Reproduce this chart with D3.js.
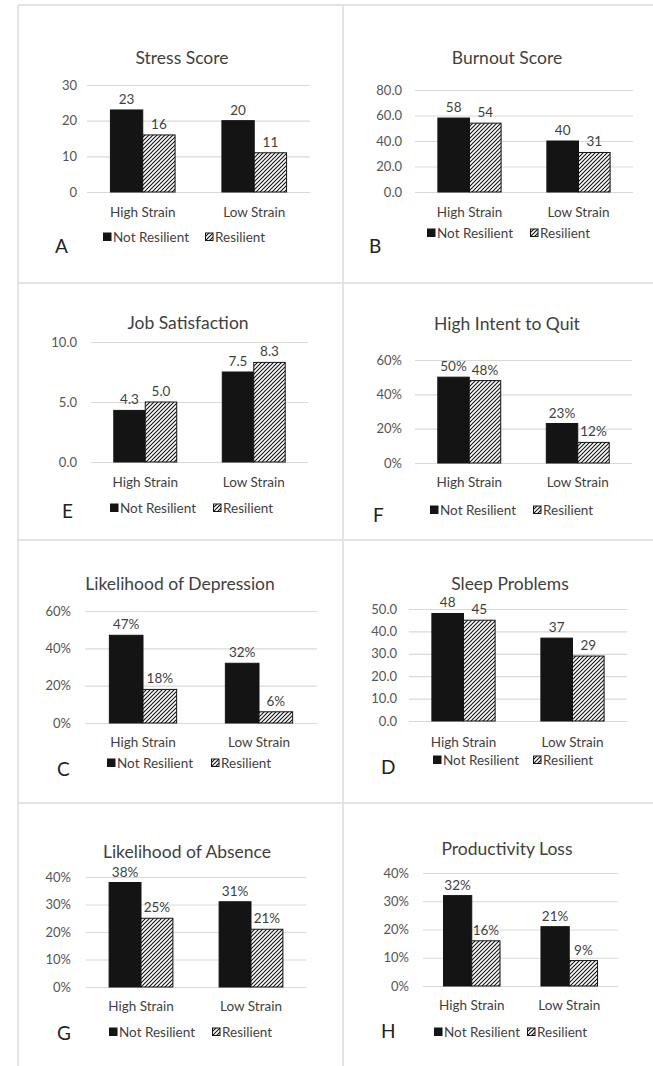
<!DOCTYPE html>
<html>
<head>
<meta charset="utf-8">
<script src="https://cdn.jsdelivr.net/npm/d3@7"></script>
<style>
  body { margin: 0; background: #fff; }
  text { font-family: Lato, "Open Sans", sans-serif; }
</style>
</head>
<body>
<script>
// categories and series
let categories = ['High Strain', 'Low Strain']
let seriesNames = ['Not Resilient', 'Resilient']

// values
let stressNotRes = [23, 20], stressRes = [16, 11]
let burnoutNotRes = [58, 40], burnoutRes = [54, 31]
let jobSatNotRes = [4.3, 7.5], jobSatRes = [5.0, 8.3]
let quitNotRes = [0.50, 0.23], quitRes = [0.48, 0.12]
let depressNotRes = [0.47, 0.32], depressRes = [0.18, 0.06]
let sleepNotRes = [48, 37], sleepRes = [45, 29]
let absenceNotRes = [0.38, 0.31], absenceRes = [0.25, 0.21]
let productNotRes = [0.32, 0.21], productRes = [0.16, 0.09]

// tick values
let stressTicks = [0, 10, 20, 30]
let burnoutTicks = [0, 20, 40, 60, 80]
let jobSatTicks = [0, 5, 10]
let quitTicks = [0, 0.2, 0.4, 0.6]
let depressTicks = [0, 0.2, 0.4, 0.6]
let sleepTicks = [0, 10, 20, 30, 40, 50]
let absenceTicks = [0, 0.1, 0.2, 0.3, 0.4]
let productTicks = [0, 0.1, 0.2, 0.3, 0.4]

let titles = ['Stress Score', 'Burnout Score', 'Job Satisfaction', 'High Intent to Quit',
  'Likelihood of Depression', 'Sleep Problems', 'Likelihood of Absence', 'Productivity Loss']
let letters = ['A', 'B', 'E', 'F', 'C', 'D', 'G', 'H']

let svg = d3.select('body').append('svg')
  .attr('width', 653)
  .attr('height', 1066)

let defs = svg.append('defs')
let pat = defs.append('pattern')
  .attr('id', 'hatch')
  .attr('patternUnits', 'userSpaceOnUse')
  .attr('width', 4)
  .attr('height', 4)
pat.append('rect').attr('width', 4).attr('height', 4).attr('fill', '#fff')
pat.append('path')
  .attr('d', 'M-1,1 l2,-2 M0,4 l4,-4 M3,5 l2,-2')
  .attr('stroke', '#111')
  .attr('stroke-width', 1.1)

// table grid lines
let gridColor = '#e3e3e3'
let cellLines = [
  [18, 5, 653, 5], [18, 5, 18, 1066], [343, 5, 343, 1066],
  [18, 283, 653, 283], [18, 540, 653, 540], [18, 803, 653, 803]
]
svg.selectAll('.cellLine')
  .data(cellLines)
  .enter()
  .append('line')
  .attr('class', 'cellLine')
  .attr('x1', d => d[0]).attr('y1', d => d[1])
  .attr('x2', d => d[2]).attr('y2', d => d[3])
  .attr('stroke', gridColor)
  .attr('stroke-width', 2)

// positions of each small chart
let layout = [
  {tx: 182, ty: 57, x0: 87, x1: 310, y0: 192, y1: 85, tickX: 77, catY: 212, legY: 237, leg1: 103, leg2: 205, lx: 55, ly: 245},
  {tx: 507, ty: 57, x0: 415, x1: 633, y0: 192, y1: 90, tickX: 402, catY: 212, legY: 233, leg1: 427, leg2: 530, lx: 369, ly: 245},
  {tx: 188, ty: 322, x0: 91, x1: 308, y0: 462, y1: 342, tickX: 77, catY: 482, legY: 508, leg1: 110, leg2: 213, lx: 62, ly: 510},
  {tx: 507, ty: 323, x0: 415, x1: 632, y0: 463, y1: 360, tickX: 402, catY: 482, legY: 510, leg1: 430, leg2: 533, lx: 373, ly: 514},
  {tx: 180, ty: 583, x0: 85, x1: 317, y0: 723, y1: 611, tickX: 71, catY: 742, legY: 763, leg1: 107, leg2: 211, lx: 57, ly: 768},
  {tx: 510, ty: 583, x0: 409, x1: 627, y0: 721, y1: 609, tickX: 397, catY: 742, legY: 760, leg1: 433, leg2: 533, lx: 381, ly: 766},
  {tx: 187, ty: 851, x0: 86, x1: 306, y0: 987, y1: 877, tickX: 71, catY: 1006, legY: 1032, leg1: 109, leg2: 212, lx: 57, ly: 1032},
  {tx: 507, ty: 848, x0: 423, x1: 618, y0: 986, y1: 873, tickX: 409, catY: 1005, legY: 1032, leg1: 434, leg2: 527, lx: 381, ly: 1030}
]

let values = [
  [stressNotRes, stressRes], [burnoutNotRes, burnoutRes], [jobSatNotRes, jobSatRes], [quitNotRes, quitRes],
  [depressNotRes, depressRes], [sleepNotRes, sleepRes], [absenceNotRes, absenceRes], [productNotRes, productRes]
]
let ticks = [stressTicks, burnoutTicks, jobSatTicks, quitTicks, depressTicks, sleepTicks, absenceTicks, productTicks]
let tickFormats = [d3.format('d'), d3.format('.1f'), d3.format('.1f'), d3.format('.0%'),
  d3.format('.0%'), d3.format('.1f'), d3.format('.0%'), d3.format('.0%')]
let labelFormats = [d3.format('d'), d3.format('d'), d3.format('.1f'), d3.format('.0%'),
  d3.format('.0%'), d3.format('d'), d3.format('.0%'), d3.format('.0%')]

let textColor = '#3f3f3f'

layout.forEach((p, i) => {
  let g = svg.append('g').attr('class', 'panel')
  let tv = ticks[i]

  let y = d3.scaleLinear()
    .domain([0, tv[tv.length - 1]])
    .range([p.y0, p.y1])
  let x = d3.scaleBand()
    .domain(categories)
    .range([p.x0, p.x1])
    .paddingInner(0.42)
    .paddingOuter(0.21)
  let xs = d3.scaleBand()
    .domain(seriesNames)
    .range([0, x.bandwidth()])

  // gridlines + tick labels
  let yAxis = d3.axisLeft(y)
    .tickValues(tv)
    .tickFormat(tickFormats[i])
    .tickSize(-(p.x1 - p.x0))
    .tickPadding(p.x0 - p.tickX)
  let ax = g.append('g')
    .attr('transform', `translate(${p.x0},0)`)
    .call(yAxis)
  ax.select('.domain').remove()
  ax.selectAll('line').attr('stroke', '#d9d9d9').attr('stroke-width', 1.2)
  ax.selectAll('text')
    .attr('fill', '#555')
    .style('font-size', '13px')

  // title
  g.append('text')
    .attr('x', p.tx)
    .attr('y', p.ty)
    .attr('text-anchor', 'middle')
    .attr('dominant-baseline', 'central')
    .attr('fill', textColor)
    .style('font-size', '17.5px')
    .text(titles[i])

  // bars
  let rows = []
  categories.forEach((c, ci) => {
    seriesNames.forEach((s, si) => {
      rows.push({cat: c, ser: s, si: si, v: values[i][si][ci]})
    })
  })
  g.selectAll('.bar')
    .data(rows)
    .enter()
    .append('rect')
    .attr('class', 'bar')
    .attr('x', d => x(d.cat) + xs(d.ser))
    .attr('y', d => y(d.v))
    .attr('width', xs.bandwidth())
    .attr('height', d => y(0) - y(d.v))
    .attr('fill', d => d.si === 0 ? '#141414' : 'url(#hatch)')
    .attr('stroke', '#141414')
    .attr('stroke-width', 1)

  g.selectAll('.valueLabel')
    .data(rows)
    .enter()
    .append('text')
    .attr('class', 'valueLabel')
    .attr('x', d => x(d.cat) + xs(d.ser) + xs.bandwidth() / 2)
    .attr('y', d => y(d.v) - 11)
    .attr('text-anchor', 'middle')
    .attr('dominant-baseline', 'central')
    .attr('fill', textColor)
    .style('font-size', '13.5px')
    .text(d => labelFormats[i](d.v))

  // category labels
  g.selectAll('.catLabel')
    .data(categories)
    .enter()
    .append('text')
    .attr('class', 'catLabel')
    .attr('x', d => x(d) + x.bandwidth() / 2)
    .attr('y', p.catY)
    .attr('text-anchor', 'middle')
    .attr('dominant-baseline', 'central')
    .attr('fill', textColor)
    .style('font-size', '13.5px')
    .text(d => d)

  // legend
  let leg = g.selectAll('.legItem')
    .data(seriesNames)
    .enter()
    .append('g')
    .attr('class', 'legItem')
    .attr('transform', (d, si) => `translate(${si === 0 ? p.leg1 : p.leg2},${p.legY})`)
  leg.append('rect')
    .attr('x', 0.5)
    .attr('y', -4)
    .attr('width', 7.5)
    .attr('height', 7.5)
    .attr('fill', (d, si) => si === 0 ? '#141414' : 'url(#hatch)')
    .attr('stroke', '#141414')
    .attr('stroke-width', 1)
  leg.append('text')
    .attr('x', 10)
    .attr('y', 0)
    .attr('dominant-baseline', 'central')
    .attr('fill', textColor)
    .style('font-size', '13.5px')
    .text(d => d)

  // panel letter
  g.append('text')
    .attr('x', p.lx)
    .attr('y', p.ly)
    .attr('dominant-baseline', 'central')
    .attr('fill', '#222')
    .style('font-size', '19px')
    .text(letters[i])
})
</script>
</body>
</html>
